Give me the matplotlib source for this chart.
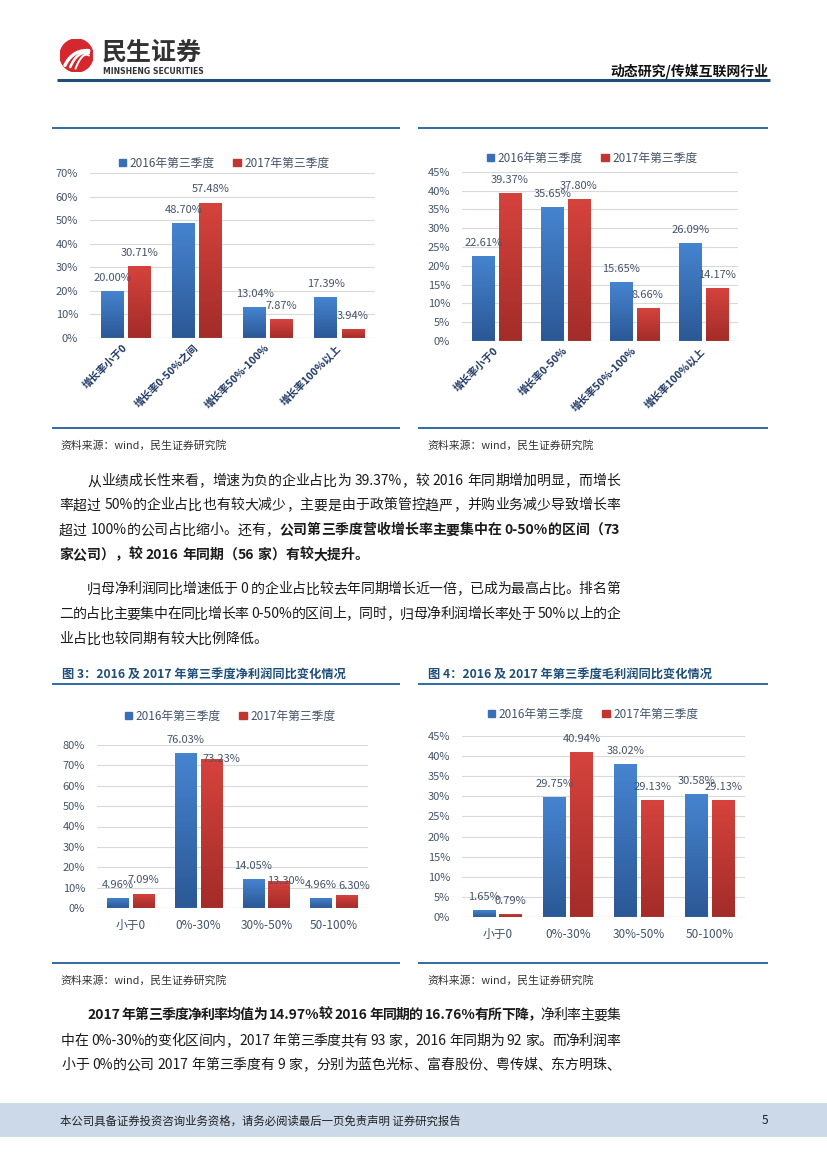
import numpy as np
import matplotlib
matplotlib.use('Agg')
import matplotlib.pyplot as plt
from matplotlib.patches import Patch, Circle
from matplotlib.lines import Line2D
from matplotlib.colors import LinearSegmentedColormap

plt.rcParams['font.family'] = ['Noto Sans CJK SC', 'DejaVu Sans']

# ---- data ----
legend_labels = ['2016年第三季度', '2017年第三季度']

rev_cats = ['增长率小于0', '增长率0-50%之间', '增长率50%-100%', '增长率100%以上']
rev_2016 = [20.00, 48.70, 13.04, 17.39]
rev_2017 = [30.71, 57.48, 7.87, 3.94]

prof_cats = ['增长率小于0', '增长率0-50%', '增长率50%-100%', '增长率100%以上']
prof_2016 = [22.61, 35.65, 15.65, 26.09]
prof_2017 = [39.37, 37.80, 8.66, 14.17]

margin_cats = ['小于0', '0%-30%', '30%-50%', '50-100%']
net_2016 = [4.96, 76.03, 14.05, 4.96]
net_2017 = [7.09, 73.23, 13.30, 6.30]
gross_2016 = [1.65, 29.75, 38.02, 30.58]
gross_2017 = [0.79, 40.94, 29.13, 29.13]

source = '资料来源：wind，民生证券研究院'

W, H = 827, 1169
BLUE, RED = '#3a6fb8', '#c23531'
BLUE_TOP, BLUE_BOT = '#4684d0', '#2b5896'
RED_TOP, RED_BOT = '#d6433d', '#a32c29'
TXT = '#44546a'
INK = '#1a1a1a'
RULE = '#2f6aa3'

fig = plt.figure(figsize=(W / 100, H / 100), dpi=100)
renderer = fig.canvas.get_renderer()


def P(x, y):
    return x / W, 1 - y / H


def hline(x0, x1, y, color=RULE, lw=1.4):
    fig.add_artist(Line2D([x0 / W, x1 / W], [1 - y / H] * 2, color=color, lw=lw,
                          solid_capstyle='butt'))


def shade(ax, bars, top, bot):
    cmap = LinearSegmentedColormap.from_list('g', [bot, top])
    grad = np.linspace(0, 1, 128).reshape(-1, 1)
    for b in bars:
        x, w, h = b.get_x(), b.get_width(), b.get_height()
        im = ax.imshow(grad, extent=[x, x + w, 0, h], origin='lower', cmap=cmap,
                       aspect='auto', zorder=3.5)
        im.set_clip_path(b)


def chart(box, cats, s16, s17, ymax, step, leg_xy, rotated, shift17=None):
    x0, y0, x1, y1 = box
    ax = fig.add_axes([x0 / W, 1 - y1 / H, (x1 - x0) / W, (y1 - y0) / H])
    idx = np.arange(len(cats))
    b1 = ax.bar(idx - 0.19, s16, 0.32, color=BLUE, lw=0, zorder=3)
    b2 = ax.bar(idx + 0.19, s17, 0.32, color=RED, lw=0, zorder=3)
    shade(ax, b1, BLUE_TOP, BLUE_BOT)
    shade(ax, b2, RED_TOP, RED_BOT)
    shift17 = shift17 or {}
    for k, (bars, vals) in enumerate(((b1, s16), (b2, s17))):
        for i, (b, v) in enumerate(zip(bars, vals)):
            dx, dy = (0, 9.4)
            if k == 1 and i in shift17:
                dx, dy = shift17[i]
            ax.annotate(f'{v:.2f}%', (b.get_x() + b.get_width() / 2, v),
                        xytext=(dx, dy), textcoords='offset points',
                        ha='center', va='center', fontsize=8, color=TXT, zorder=6)
    ax.set_xlim(-0.5, len(cats) - 0.5)
    ax.set_ylim(0, ymax)
    ticks = np.arange(0, ymax + step / 2, step)
    ax.tick_params(length=0, labelsize=8, labelcolor=TXT)
    ax.tick_params(axis='y', pad=8.5)
    ax.set_yticks(ticks)
    ax.set_yticklabels([f'{int(t)}%' for t in ticks])
    ax.yaxis.grid(True, color='#d9d9d9', lw=0.8)
    ax.set_axisbelow(True)
    for sp in ax.spines.values():
        sp.set_visible(False)
    ax.axhline(0, color='#c8c8c8', lw=0.8, zorder=4)
    ax.set_xticks(idx)
    if rotated:
        ax.tick_params(axis='x', pad=6)
        ax.set_xticklabels(cats, rotation=45, ha='right', va='center',
                           rotation_mode='anchor', fontsize=7.5,
                           fontweight='bold', color='#203864')
    else:
        ax.tick_params(axis='x', pad=8)
        ax.set_xticklabels(cats, fontsize=8.5, color=TXT)
    handles = [Patch(color=BLUE), Patch(color=RED)]
    ax.legend(handles, legend_labels, loc='center', bbox_to_anchor=P(*leg_xy),
              bbox_transform=fig.transFigure, ncol=2, frameon=False,
              handlelength=0.6, handleheight=0.6, handletextpad=0.3,
              columnspacing=1.6, fontsize=8.5, labelcolor=TXT)
    return ax


# ---- header ----
lax = fig.add_axes([60 / W, 1 - 72 / H, 33 / W, 33 / H])
lax.set_xlim(-1, 1)
lax.set_ylim(-1, 1)
lax.set_aspect('equal')
lax.axis('off')
lax.add_patch(Circle((0, 0), 1, color='#d4282e'))
t = np.linspace(0, 1, 40)
for k in range(3):
    sx, sy = -0.7 + 0.32 * k, -0.6 - 0.1 * k
    cx, cy = -0.25 + 0.3 * k, 0.35 - 0.05 * k
    ex, ey = 0.75, 0.3 - 0.15 * k
    xs = (1 - t) ** 2 * sx + 2 * (1 - t) * t * cx + t ** 2 * ex
    ys = (1 - t) ** 2 * sy + 2 * (1 - t) * t * cy + t ** 2 * ey
    lax.plot(xs, ys, color='white', lw=2.4 - 0.5 * k, solid_capstyle='round')

fig.text(*P(102, 53), '民生证券', fontsize=18, fontweight='bold', color='#333333',
         ha='left', va='center')
fig.text(*P(103, 71), 'MINSHENG SECURITIES', fontsize=5.6, fontweight='bold',
         color='#333333', ha='left', va='center', family=['DejaVu Sans'])
fig.text(*P(768, 71), '动态研究/传媒互联网行业', fontsize=10, fontweight='bold',
         color='#111111', ha='right', va='center')
hline(57, 770, 80, color='#1f4e79', lw=2.2)

# ---- top charts ----
hline(52, 400, 128)
hline(418, 768, 128)
chart((90, 173, 375, 338), rev_cats, rev_2016, rev_2017, 70, 10, (224, 163), True)
chart((462, 171.7, 738, 341), prof_cats, prof_2016, prof_2017, 45, 5, (592, 158), True)
hline(52, 400, 428)
hline(418, 768, 428)
fig.text(*P(60, 445), source, fontsize=7.8, color='#333333', ha='left', va='center')
fig.text(*P(427, 445), source, fontsize=7.8, color='#333333', ha='left', va='center')

# ---- body text ----
BODY = 10.0
EM = BODY * 100 / 72


def split_tokens(s):
    out, buf = [], ''
    for ch in s:
        if ch == ' ':
            if buf:
                out.append(buf)
                buf = ''
            out.append(' ')
        elif ord(ch) < 128:
            buf += ch
        else:
            if buf:
                out.append(buf)
                buf = ''
            out.append(ch)
    if buf:
        out.append(buf)
    return out


def text_line(segs, y, x0, x1=None):
    items = []
    for s, bold in segs:
        for tk in split_tokens(s):
            items.append((tk, bold))
    arts, widths = [], []
    for tk, bold in items:
        if tk == ' ':
            arts.append(None)
            widths.append(0.25 * EM)
            continue
        a = fig.text(0, 0, tk, fontsize=BODY, fontweight='bold' if bold else 'normal',
                     color=INK, ha='left', va='baseline')
        widths.append(a.get_window_extent(renderer).width if tk.isascii() else EM)
        arts.append(a)
    gap = 0.0
    if x1 is not None and len(items) > 1:
        gap = (x1 - x0 - sum(widths)) / (len(items) - 1)
    x = x0
    for a, w in zip(arts, widths):
        if a is not None:
            a.set_position(P(x, y + 0.38 * EM))
        x += w + gap


L, IND, R = 59, 87, 620
text_line([('从业绩成长性来看，增速为负的企业占比为 39.37%，较 2016 年同期增加明显，而增长', False)], 480, IND, R)
text_line([('率超过 50%的企业占比也有较大减少，主要是由于政策管控趋严，并购业务减少导致增长率', False)], 504, L, R)
text_line([('超过 100%的公司占比缩小。还有，', False),
           ('公司第三季度营收增长率主要集中在 0-50%的区间（73', True)], 529, L, R)
text_line([('家公司），较 2016 年同期（56 家）有较大提升。', True)], 554, L)
text_line([('归母净利润同比增速低于 0 的企业占比较去年同期增长近一倍，已成为最高占比。排名第', False)], 588, IND, R)
text_line([('二的占比主要集中在同比增长率 0-50%的区间上，同时，归母净利润增长率处于 50%以上的企', False)], 613, L, R)
text_line([('业占比也较同期有较大比例降低。', False)], 638, L)

# ---- bottom charts ----
fig.text(*P(62, 674), '图 3：2016 及 2017 年第三季度净利润同比变化情况', fontsize=8.8,
         fontweight='bold', color='#1f4e79', ha='left', va='center')
fig.text(*P(428, 674), '图 4：2016 及 2017 年第三季度毛利润同比变化情况', fontsize=8.8,
         fontweight='bold', color='#1f4e79', ha='left', va='center')
hline(52, 400, 684)
hline(418, 768, 684)
chart((97, 745, 368, 908), margin_cats, net_2016, net_2017, 80, 10, (230, 716), False,
      shift17={1: (7, 0), 2: (5, 0), 3: (5.5, 6.8)})
chart((462, 736, 745, 917), margin_cats, gross_2016, gross_2017, 45, 5, (593, 714), False)
hline(52, 400, 963)
hline(418, 768, 963)
fig.text(*P(60, 980), source, fontsize=7.8, color='#333333', ha='left', va='center')
fig.text(*P(427, 980), source, fontsize=7.8, color='#333333', ha='left', va='center')

text_line([('2017 年第三季度净利率均值为 14.97%较 2016 年同期的 16.76%有所下降，', True),
           ('净利率主要集', False)], 1014, IND, R)
text_line([('中在 0%-30%的变化区间内，2017 年第三季度共有 93 家，2016 年同期为 92 家。而净利润率', False)], 1040, L + 2, R)
text_line([('小于 0%的公司 2017 年第三季度有 9 家，分别为蓝色光标、富春股份、粤传媒、东方明珠、', False)], 1064, L + 2, R)

# ---- footer ----
fig.add_artist(plt.Rectangle(P(0, 1137), 1, 34 / H, color='#cbd9e8', lw=0, zorder=0))
fig.text(*P(60, 1121), '本公司具备证券投资咨询业务资格，请务必阅读最后一页免责声明 证券研究报告',
         fontsize=8.2, color='#222222', ha='left', va='center')
fig.text(*P(768, 1121), '5', fontsize=8.5, color='#222222', ha='right', va='center')

fig.savefig('out.png', dpi=100)
